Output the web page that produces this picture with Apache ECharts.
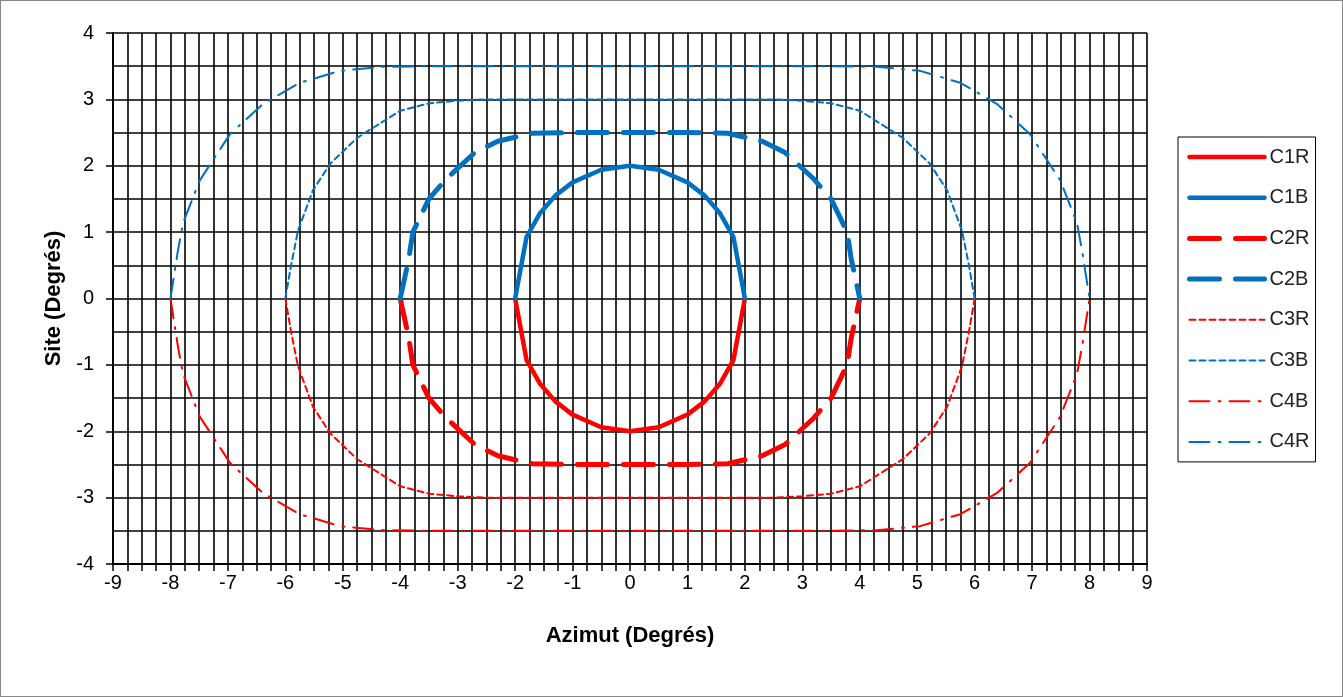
<!DOCTYPE html>
<html><head><meta charset="utf-8">
<script src="https://cdn.jsdelivr.net/npm/echarts@6/dist/echarts.min.js"></script>
<style>html,body{margin:0;padding:0;background:#fff}#c{width:1343px;height:697px;box-sizing:border-box;border:1px solid #888}</style>
</head><body><div id="c"></div>
<script>
var xTicks = [-9,-8,-7,-6,-5,-4,-3,-2,-1,0,1,2,3,4,5,6,7,8,9];
var yTicks = [-4,-3,-2,-1,0,1,2,3,4];
var C1R = [[-2,0],[-1.8,-0.93],[-1.57,-1.28],[-1.3,-1.55],[-1,-1.75],[-0.5,-1.94],[0,-2],[0.5,-1.94],[1,-1.75],[1.3,-1.55],[1.57,-1.28],[1.8,-0.93],[2,0]];
var C1B = [[-2,0],[-1.8,0.93],[-1.57,1.28],[-1.3,1.55],[-1,1.75],[-0.5,1.94],[0,2],[0.5,1.94],[1,1.75],[1.3,1.55],[1.57,1.28],[1.8,0.93],[2,0]];
var C2R = [[-4,0],[-3.85,-0.6],[-3.78,-1],[-3.5,-1.5],[-3.2,-1.8],[-2.7,-2.2],[-2.3,-2.37],[-1.7,-2.49],[-1,-2.5],[0,-2.5],[1,-2.5],[1.7,-2.49],[2.3,-2.37],[2.7,-2.2],[3.2,-1.8],[3.5,-1.5],[3.78,-1],[3.85,-0.6],[4,0]];
var C2B = [[-4,0],[-3.85,0.6],[-3.78,1],[-3.5,1.5],[-3.2,1.8],[-2.7,2.2],[-2.3,2.37],[-1.7,2.49],[-1,2.5],[0,2.5],[1,2.5],[1.7,2.49],[2.3,2.37],[2.7,2.2],[3.2,1.8],[3.5,1.5],[3.78,1],[3.85,0.6],[4,0]];
var C3R = [[-6,0],[-5.9,-0.5],[-5.78,-1.02],[-5.52,-1.63],[-5.22,-2.03],[-4.75,-2.42],[-4,-2.83],[-3.5,-2.94],[-3,-2.98],[-2.5,-3],[0,-3],[2.5,-3],[3,-2.98],[3.5,-2.94],[4,-2.83],[4.75,-2.42],[5.22,-2.03],[5.52,-1.63],[5.78,-1.02],[5.9,-0.5],[6,0]];
var C3B = [[-6,0],[-5.9,0.5],[-5.78,1.02],[-5.52,1.63],[-5.22,2.03],[-4.75,2.42],[-4,2.83],[-3.5,2.94],[-3,2.98],[-2.5,3],[0,3],[2.5,3],[3,2.98],[3.5,2.94],[4,2.83],[4.75,2.42],[5.22,2.03],[5.52,1.63],[5.78,1.02],[5.9,0.5],[6,0]];
var C4B = [[-8,0],[-7.87,-0.72],[-7.78,-1.14],[-7.49,-1.78],[-6.96,-2.48],[-6.39,-2.93],[-5.75,-3.25],[-5.05,-3.43],[-4.3,-3.49],[-3.5,-3.5],[0,-3.5],[3.5,-3.5],[4.3,-3.49],[5.05,-3.43],[5.75,-3.25],[6.39,-2.93],[6.96,-2.48],[7.49,-1.78],[7.78,-1.14],[7.87,-0.72],[8,0]];
var C4R = [[-8,0],[-7.87,0.72],[-7.78,1.14],[-7.49,1.78],[-6.96,2.48],[-6.39,2.93],[-5.75,3.25],[-5.05,3.43],[-4.3,3.49],[-3.5,3.5],[0,3.5],[3.5,3.5],[4.3,3.49],[5.05,3.43],[5.75,3.25],[6.39,2.93],[6.96,2.48],[7.49,1.78],[7.78,1.14],[7.87,0.72],[8,0]];

var RED = '#FF0000', BLUE = '#0070C0';
function s(name, data, color, width, type) {
  return {name:name, type:'line', data:data, showSymbol:false, symbol:'none', smooth:false,
    lineStyle:{color:color, width:width, type:type, cap:'round', join:'round'}, itemStyle:{color:color}, z:3};
}
var chart = echarts.init(document.getElementById('c'));
var F = 'Arial, "Liberation Sans", sans-serif';
chart.setOption({
  animation:false,
  textStyle:{fontFamily:F},
  grid:{left:112, right:195, top:32, bottom:132, show:false},
  xAxis:{type:'value', min:-9, max:9, interval:1,
    name:'Azimut (Degrés)', nameLocation:'middle', nameGap:61,
    nameTextStyle:{fontFamily:F, fontWeight:'bold', fontSize:22, color:'#000'},
    axisLine:{show:true, onZero:false, lineStyle:{color:'#000', width:2}},
    axisTick:{show:true, length:7, lineStyle:{color:'#000', width:1.5}},
    minorTick:{show:true, splitNumber:4, length:7, lineStyle:{color:'#000', width:1.5}},
    splitLine:{show:true, lineStyle:{color:'#000', width:1.6}},
    minorSplitLine:{show:true, lineStyle:{color:'#000', width:1.6}},
    axisLabel:{fontFamily:F, fontSize:20, color:'#000', margin:9,
      formatter:function(v){ return xTicks.indexOf(v)>=0 ? String(v) : ''; }}
  },
  yAxis:{type:'value', min:-4, max:4, interval:1,
    name:'Site (Degrés)', nameLocation:'middle', nameGap:46, nameRotate:90,
    nameTextStyle:{fontFamily:F, fontWeight:'bold', fontSize:22, color:'#000'},
    axisLine:{show:true, onZero:false, lineStyle:{color:'#000', width:2}},
    axisTick:{show:true, length:7, lineStyle:{color:'#000', width:1.5}},
    minorTick:{show:false, splitNumber:2},
    splitLine:{show:true, lineStyle:{color:'#000', width:1.6}},
    minorSplitLine:{show:true, lineStyle:{color:'#000', width:1.6}},
    axisLabel:{fontFamily:F, fontSize:20, color:'#000', margin:19,
      formatter:function(v){ return yTicks.indexOf(v)>=0 ? String(v) : ''; }}
  },
  legend:{orient:'vertical', left:1177, top:136, width:136,
    padding:[10,6,10,9], itemGap:20.7, itemWidth:75, itemHeight:14,
    borderColor:'#000', borderWidth:1,
    itemStyle:{opacity:0},
    lineStyle:{width:'inherit', type:'inherit', cap:'round'},
    textStyle:{fontFamily:F, fontSize:20, color:'#222'},
    data:['C1R','C1B','C2R','C2B','C3R','C3B','C4B','C4R']},
  series:[
    s('C1R', C1R, RED, 4.5, 'solid'),
    s('C1B', C1B, BLUE, 4.5, 'solid'),
    s('C2R', C2R, RED, 5, [30,16]),
    s('C2B', C2B, BLUE, 5, [30,16]),
    s('C3R', C3R, RED, 2, [6,4]),
    s('C3B', C3B, BLUE, 2, [6,4]),
    s('C4B', C4B, RED, 2, [20,9,2,9]),
    s('C4R', C4R, BLUE, 2, [20,9,2,9])
  ]
});
</script></body></html>
